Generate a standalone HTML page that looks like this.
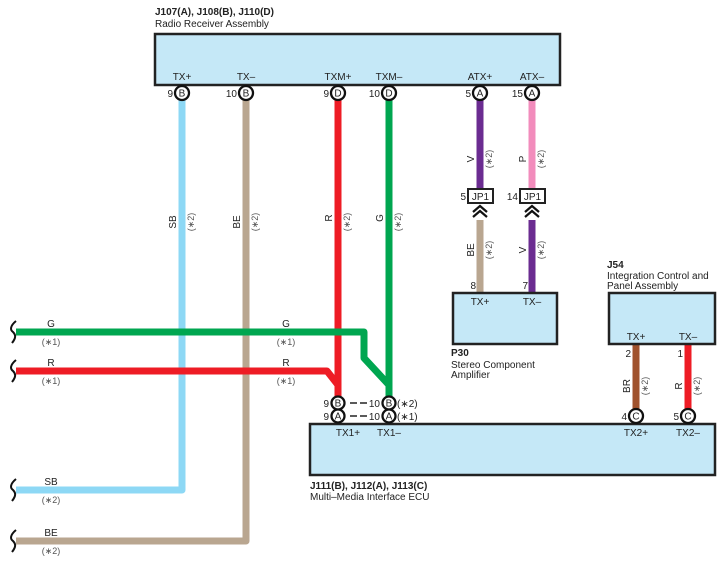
<!DOCTYPE html>
<html><head><meta charset="utf-8"><style>
html,body{margin:0;padding:0;background:#fff;}
svg{display:block;font-family:"Liberation Sans",sans-serif;}
text{font-size:10px;fill:#222;}
.b{font-weight:bold;}
.s{font-size:9px;fill:#555;}
</style></head><body>
<svg width="725" height="563" viewBox="0 0 725 563" xmlns="http://www.w3.org/2000/svg">
<g fill="none" stroke-width="7" stroke-linejoin="round">
<polyline points="182,98 182,490 16,490" stroke="#8dd8f5"/>
<polyline points="246,98 246,541 16,541" stroke="#b9a690"/>
<polyline points="338,98 338,398" stroke="#ee1c25"/>
<polyline points="16,371 327,371 338,385 338,398" stroke="#ee1c25"/>
<polyline points="389,98 389,398" stroke="#00a650"/>
<polyline points="16,332 364,332 364,358 389,385" stroke="#00a650"/>
<line x1="480" y1="98" x2="480" y2="190" stroke="#6b2c91"/>
<line x1="532" y1="98" x2="532" y2="190" stroke="#f28cbc"/>
<line x1="480" y1="220" x2="480" y2="292" stroke="#b9a690"/>
<line x1="532" y1="220" x2="532" y2="292" stroke="#6b2c91"/>
<line x1="636" y1="345" x2="636" y2="411" stroke="#a0522d"/>
<line x1="688" y1="345" x2="688" y2="411" stroke="#ee1c25"/>
</g>
<rect x="155" y="34" width="405" height="51" fill="#c5e8f7" stroke="#222" stroke-width="2.5"/>
<rect x="310" y="424" width="405" height="51" fill="#c5e8f7" stroke="#222" stroke-width="2.5"/>
<rect x="453" y="293" width="104" height="51" fill="#c5e8f7" stroke="#222" stroke-width="2.5"/>
<rect x="609" y="293" width="106" height="51" fill="#c5e8f7" stroke="#222" stroke-width="2.5"/>
<text x="155" y="15" class="b">J107(A), J108(B), J110(D)</text>
<text x="155" y="27">Radio Receiver Assembly</text>
<text x="310" y="489" class="b">J111(B), J112(A), J113(C)</text>
<text x="310" y="500">Multi–Media Interface ECU</text>
<text x="451" y="356" class="b">P30</text>
<text x="451" y="368">Stereo Component</text>
<text x="451" y="378">Amplifier</text>
<text x="607" y="268" class="b">J54</text>
<text x="607" y="279">Integration Control and</text>
<text x="607" y="289">Panel Assembly</text>
<g text-anchor="middle">
<text x="182" y="80">TX+</text><text x="246" y="80">TX–</text><text x="338" y="80">TXM+</text><text x="389" y="80">TXM–</text><text x="480" y="80">ATX+</text><text x="532" y="80">ATX–</text>
<text x="348" y="436">TX1+</text><text x="389" y="436">TX1–</text><text x="636" y="436">TX2+</text><text x="688" y="436">TX2–</text>
<text x="480" y="305">TX+</text><text x="532" y="305">TX–</text>
<text x="636" y="340">TX+</text><text x="688" y="340">TX–</text>
</g>
<g fill="#fff" stroke="#111" stroke-width="2.3">
<circle cx="182" cy="93" r="7"/><circle cx="246" cy="93" r="7"/><circle cx="338" cy="93" r="7"/><circle cx="389" cy="93" r="7"/><circle cx="480" cy="93" r="7"/><circle cx="532" cy="93" r="7"/>
<circle cx="338" cy="403" r="6.5"/><circle cx="389" cy="403" r="6.5"/><circle cx="338" cy="416" r="6.5"/><circle cx="389" cy="416" r="6.5"/>
<circle cx="636" cy="416" r="7"/><circle cx="688" cy="416" r="7"/>
</g>
<g text-anchor="middle">
<text x="182" y="96.5" font-size="9">B</text><text x="246" y="96.5" font-size="9">B</text><text x="338" y="96.5" font-size="9">D</text><text x="389" y="96.5" font-size="9">D</text><text x="480" y="96.5" font-size="9">A</text><text x="532" y="96.5" font-size="9">A</text>
<text x="338" y="406.5" font-size="9">B</text><text x="389" y="406.5" font-size="9">B</text><text x="338" y="419.5" font-size="9">A</text><text x="389" y="419.5" font-size="9">A</text>
<text x="636" y="419.5" font-size="9">C</text><text x="688" y="419.5" font-size="9">C</text>
</g>
<g text-anchor="end">
<text x="173" y="97">9</text><text x="237" y="97">10</text><text x="329" y="97">9</text><text x="380" y="97">10</text><text x="471" y="97">5</text><text x="523" y="97">15</text>
<text x="329" y="407">9</text><text x="380" y="407">10</text><text x="329" y="420">9</text><text x="380" y="420">10</text>
<text x="627" y="420">4</text><text x="679" y="420">5</text>
<text x="631" y="357">2</text><text x="683" y="357">1</text>
<text x="476" y="289">8</text><text x="528" y="289">7</text>
<text x="466" y="200">5</text><text x="518" y="200">14</text>
</g>
<text x="397" y="407">(∗2)</text><text x="397" y="420">(∗1)</text>
<g stroke="#222" stroke-width="1.5"><line x1="350" y1="403" x2="357" y2="403"/><line x1="360" y1="403" x2="367" y2="403"/><line x1="350" y1="416" x2="357" y2="416"/><line x1="360" y1="416" x2="367" y2="416"/></g>
<rect x="468" y="189" width="25" height="14" fill="#fff" stroke="#222" stroke-width="2"/>
<rect x="520" y="189" width="25" height="14" fill="#fff" stroke="#222" stroke-width="2"/>
<text x="480.5" y="200" text-anchor="middle">JP1</text><text x="532.5" y="200" text-anchor="middle">JP1</text>
<g fill="none" stroke="#111" stroke-width="2.2">
<polyline points="473,212 480,206 487,212"/><polyline points="473,217 480,211 487,217"/>
<polyline points="525,212 532,206 539,212"/><polyline points="525,217 532,211 539,217"/>
</g>
<g>
<text transform="translate(176,222) rotate(-90)" text-anchor="middle">SB</text><text class="s" transform="translate(194,222) rotate(-90)" text-anchor="middle">(∗2)</text>
<text transform="translate(240,222) rotate(-90)" text-anchor="middle">BE</text><text class="s" transform="translate(258,222) rotate(-90)" text-anchor="middle">(∗2)</text>
<text transform="translate(332,218) rotate(-90)" text-anchor="middle">R</text><text class="s" transform="translate(350,222) rotate(-90)" text-anchor="middle">(∗2)</text>
<text transform="translate(383,218) rotate(-90)" text-anchor="middle">G</text><text class="s" transform="translate(401,222) rotate(-90)" text-anchor="middle">(∗2)</text>
<text transform="translate(474,159) rotate(-90)" text-anchor="middle">V</text><text class="s" transform="translate(492,159) rotate(-90)" text-anchor="middle">(∗2)</text>
<text transform="translate(526,159) rotate(-90)" text-anchor="middle">P</text><text class="s" transform="translate(544,159) rotate(-90)" text-anchor="middle">(∗2)</text>
<text transform="translate(474,250) rotate(-90)" text-anchor="middle">BE</text><text class="s" transform="translate(492,250) rotate(-90)" text-anchor="middle">(∗2)</text>
<text transform="translate(526,250) rotate(-90)" text-anchor="middle">V</text><text class="s" transform="translate(544,250) rotate(-90)" text-anchor="middle">(∗2)</text>
<text transform="translate(630,386) rotate(-90)" text-anchor="middle">BR</text><text class="s" transform="translate(648,386) rotate(-90)" text-anchor="middle">(∗2)</text>
<text transform="translate(682,386) rotate(-90)" text-anchor="middle">R</text><text class="s" transform="translate(700,386) rotate(-90)" text-anchor="middle">(∗2)</text>
</g>
<g text-anchor="middle">
<text x="51" y="327">G</text><text class="s" x="51" y="345">(∗1)</text>
<text x="286" y="327">G</text><text class="s" x="286" y="345">(∗1)</text>
<text x="51" y="366">R</text><text class="s" x="51" y="384">(∗1)</text>
<text x="286" y="366">R</text><text class="s" x="286" y="384">(∗1)</text>
<text x="51" y="485">SB</text><text class="s" x="51" y="503">(∗2)</text>
<text x="51" y="536">BE</text><text class="s" x="51" y="554">(∗2)</text>
</g>
<g fill="none" stroke="#111" stroke-width="2">
<path d="M16,321 C10,326 10,330 13,332 C16,335 16,338 12,343"/>
<path d="M16,360 C10,365 10,369 13,371 C16,374 16,377 12,382"/>
<path d="M16,479 C10,484 10,488 13,490 C16,493 16,496 12,501"/>
<path d="M16,530 C10,535 10,539 13,541 C16,544 16,547 12,552"/>
</g>
</svg>
</body></html>
